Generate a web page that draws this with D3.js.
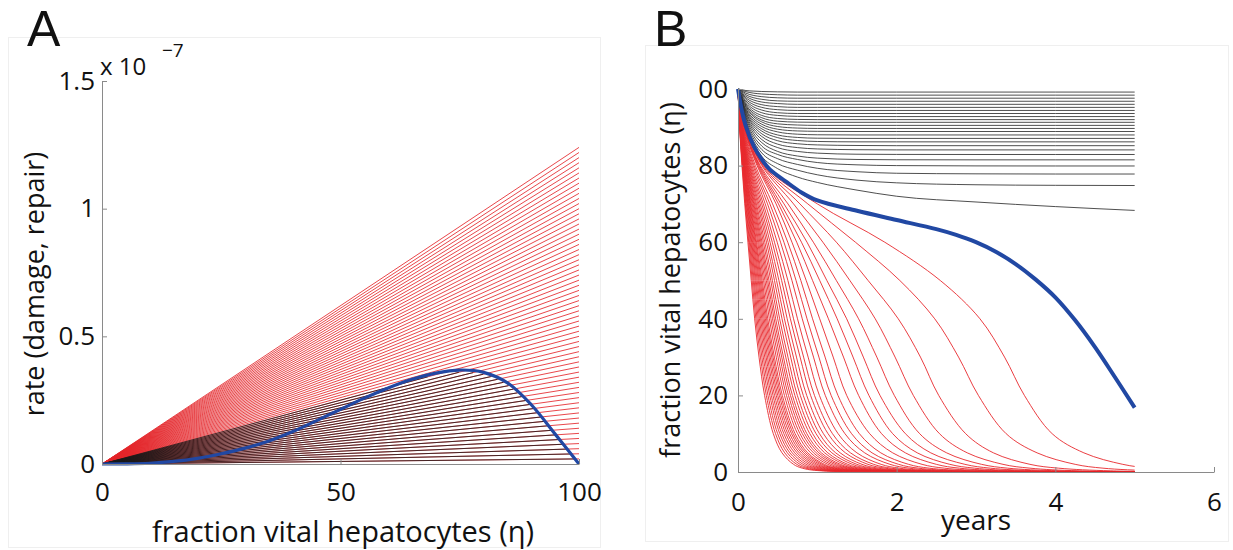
<!DOCTYPE html>
<html lang="en">
<head>
<meta charset="UTF-8">
<title>Damage vs repair of hepatocytes</title>
<script src="https://d3js.org/d3.v7.min.js"></script>
<style>
body { margin: 0; background: #fff; }
text { font-family: "Open Sans", "Noto Sans", sans-serif; fill: #111; }
.axis path, .axis line { stroke: #8a8a8a; stroke-width: 1; }
.axis text { font-size: 26px; fill: #111; font-family: "Open Sans", sans-serif; }
</style>
</head>
<body>
<svg width="1233" height="550"></svg>
<script>
// ---- panel A: repair curve (blue) and damage lines, x = eta (%) , y in 1e-7
const etaA = [0, 5, 10, 15, 20, 25, 30, 35, 40, 45, 50, 55, 60, 65, 70, 75, 80, 85, 90, 95, 100];
const repairA = [0, 0.0005, 0.003, 0.01, 0.022, 0.04, 0.062, 0.09, 0.127, 0.17, 0.214, 0.258, 0.298,
  0.332, 0.356, 0.368, 0.359, 0.318, 0.232, 0.117, 0];
// damage lines: value reached at eta = 100
const damageEnds = [0.02, 0.04, 0.06, 0.08, 0.10, 0.12, 0.14, 0.16, 0.18, 0.20,
  0.22, 0.24, 0.26, 0.28, 0.30, 0.32, 0.34, 0.36, 0.38, 0.40,
  0.42, 0.44, 0.46, 0.48, 0.50, 0.52, 0.54, 0.56, 0.58, 0.60,
  0.62, 0.64, 0.66, 0.68, 0.70, 0.72, 0.74, 0.76, 0.78, 0.80,
  0.82, 0.84, 0.86, 0.88, 0.90, 0.92, 0.94, 0.96, 0.98, 1.00,
  1.02, 1.04, 1.06, 1.08, 1.10, 1.12, 1.14, 1.16, 1.18, 1.20,
  1.22, 1.24];
const xTicksA = [0, 50, 100];
const yTicksA = [0, 0.5, 1, 1.5];

// ---- panel B: fraction vital hepatocytes over years
const blackT = [0, 0.05, 0.1, 0.2, 0.3, 0.5, 0.75, 1, 1.5, 2, 3, 4, 5];
const blackCurves = [
  [100, 99.8, 99.6, 99.45, 99.35, 99.25, 99.2, 99.2, 99.2, 99.2, 99.2, 99.2, 99.2],
  [100, 99.6, 99.3, 98.9, 98.7, 98.5, 98.4, 98.4, 98.4, 98.4, 98.4, 98.4, 98.4],
  [100, 99.4, 98.9, 98.3, 98.0, 97.7, 97.6, 97.6, 97.6, 97.6, 97.6, 97.6, 97.6],
  [100, 99.2, 98.5, 97.7, 97.3, 96.9, 96.8, 96.8, 96.8, 96.8, 96.8, 96.8, 96.8],
  [100, 98.9, 98.1, 97.1, 96.6, 96.2, 96.0, 96.0, 96.0, 96.0, 96.0, 96.0, 96.0],
  [100, 98.7, 97.7, 96.5, 95.9, 95.4, 95.2, 95.2, 95.2, 95.2, 95.2, 95.2, 95.2],
  [100, 98.5, 97.3, 95.9, 95.2, 94.6, 94.4, 94.4, 94.4, 94.4, 94.4, 94.4, 94.4],
  [100, 98.2, 96.9, 95.3, 94.5, 93.8, 93.6, 93.6, 93.6, 93.6, 93.6, 93.6, 93.6],
  [100, 98.0, 96.5, 94.7, 93.8, 93.1, 92.85, 92.8, 92.8, 92.8, 92.8, 92.8, 92.8],
  [100, 97.7, 96.1, 94.1, 93.1, 92.3, 92.05, 92.0, 92.0, 92.0, 92.0, 92.0, 92.0],
  [100, 97.5, 95.8, 93.6, 92.5, 91.6, 91.35, 91.3, 91.3, 91.3, 91.3, 91.3, 91.3],
  [100, 97.3, 95.5, 93.1, 91.9, 90.9, 90.6, 90.5, 90.5, 90.5, 90.5, 90.5, 90.5],
  [100, 97.1, 95.2, 92.7, 91.4, 90.2, 89.8, 89.7, 89.7, 89.7, 89.7, 89.7, 89.7],
  [100, 96.9, 94.8, 92.2, 90.8, 89.5, 89.05, 88.95, 88.9, 88.9, 88.9, 88.9, 88.9],
  [100, 96.7, 94.5, 91.7, 90.2, 88.8, 88.2, 88.05, 88.0, 88.0, 88.0, 88.0, 88.0],
  [100, 96.5, 94.2, 91.2, 89.6, 88.0, 87.35, 87.15, 87.1, 87.1, 87.1, 87.1, 87.1],
  [100, 96.3, 93.8, 90.7, 89.0, 87.3, 86.55, 86.3, 86.2, 86.2, 86.2, 86.2, 86.2],
  [100, 96.1, 93.5, 90.2, 88.3, 86.5, 85.7, 85.4, 85.25, 85.2, 85.2, 85.2, 85.2],
  [100, 95.9, 93.1, 89.6, 87.6, 85.6, 84.7, 84.35, 84.15, 84.1, 84.1, 84.1, 84.1],
  [100, 95.7, 92.7, 89.0, 86.8, 84.7, 83.7, 83.25, 82.97, 82.92, 82.9, 82.9, 82.9],
  [100, 95.4, 92.3, 88.3, 86.0, 83.7, 82.5, 81.95, 81.6, 81.52, 81.5, 81.5, 81.5],
  [100, 95.1, 91.8, 87.6, 85.1, 82.9, 81.6, 80.8, 80.2, 80.0, 79.92, 79.9, 79.9],
  [100, 94.9, 91.4, 86.9, 84.2, 81.8, 80.3, 79.3, 78.4, 78.0, 77.85, 77.8, 77.8],
  [100, 94.6, 91.0, 86.2, 83.3, 80.5, 78.8, 77.6, 76.2, 75.5, 75.0, 74.85, 74.8],
  [100, 94.4, 90.6, 85.6, 82.4, 79.2, 77.0, 75.6, 73.6, 72.0, 70.5, 69.3, 68.3]
];
// red curves: time (years) at which each curve reaches the levels below
const redLevels = [100, 90, 80, 70, 60, 50, 40, 30, 20, 10, 5, 2, 1, 0.3, 0];
const redTimes = [
  [0, 0.098, 0.33, 1.00, 1.85, 2.55, 3.05, 3.36, 3.61, 3.96, 4.36, 4.85, 5.2, 5.8, 6.5],
  [0, 0.096, 0.32, 0.88, 1.48, 2.04, 2.48, 2.78, 3.03, 3.38, 3.77, 4.25, 4.6, 5.25, 6],
  [0, 0.094, 0.31, 0.78, 1.24, 1.64, 2.02, 2.30, 2.53, 2.87, 3.22, 3.68, 4.04, 4.7, 6],
  [0, 0.091, 0.30, 0.70, 1.07, 1.41, 1.73, 1.98, 2.21, 2.54, 2.89, 3.34, 3.68, 4.3, 6],
  [0, 0.088, 0.28, 0.63, 0.95, 1.24, 1.52, 1.75, 1.97, 2.29, 2.63, 3.07, 3.40, 4.05, 6],
  [0, 0.085, 0.27, 0.58, 0.87, 1.12, 1.37, 1.58, 1.79, 2.11, 2.43, 2.86, 3.18, 3.8, 6],
  [0, 0.082, 0.26, 0.54, 0.80, 1.03, 1.25, 1.45, 1.65, 1.95, 2.26, 2.67, 2.98, 3.58, 6],
  [0, 0.079, 0.25, 0.51, 0.74, 0.94, 1.14, 1.33, 1.52, 1.81, 2.11, 2.50, 2.79, 3.38, 6],
  [0, 0.075, 0.24, 0.48, 0.68, 0.86, 1.03, 1.20, 1.37, 1.66, 1.95, 2.32, 2.60, 3.2, 6],
  [0, 0.070, 0.219, 0.436, 0.627, 0.792, 0.94, 1.098, 1.26, 1.53, 1.80, 2.15, 2.41, 2.98, 6],
  [0, 0.065, 0.203, 0.402, 0.579, 0.732, 0.87, 1.02, 1.174, 1.432, 1.69, 2.025, 2.275, 2.814, 6],
  [0, 0.061, 0.190, 0.372, 0.536, 0.680, 0.81, 0.952, 1.10, 1.348, 1.597, 1.916, 2.157, 2.673, 6],
  [0, 0.057, 0.176, 0.343, 0.494, 0.629, 0.75, 0.884, 1.026, 1.262, 1.499, 1.804, 2.033, 2.529, 6],
  [0, 0.054, 0.164, 0.319, 0.46, 0.585, 0.70, 0.827, 0.964, 1.191, 1.418, 1.711, 1.931, 2.408, 6],
  [0, 0.051, 0.154, 0.299, 0.432, 0.550, 0.66, 0.783, 0.915, 1.135, 1.354, 1.638, 1.852, 2.315, 6],
  [0, 0.049, 0.145, 0.280, 0.404, 0.516, 0.62, 0.737, 0.866, 1.077, 1.288, 1.563, 1.769, 2.217, 6],
  [0, 0.046, 0.137, 0.263, 0.380, 0.486, 0.585, 0.698, 0.823, 1.027, 1.231, 1.498, 1.698, 2.131, 6],
  [0, 0.044, 0.130, 0.248, 0.359, 0.460, 0.555, 0.664, 0.785, 0.984, 1.183, 1.442, 1.637, 2.059, 6],
  [0, 0.043, 0.123, 0.233, 0.338, 0.434, 0.525, 0.63, 0.748, 0.941, 1.133, 1.384, 1.573, 1.983, 6],
  [0, 0.041, 0.118, 0.221, 0.32, 0.413, 0.50, 0.602, 0.717, 0.905, 1.093, 1.338, 1.523, 1.924, 6],
  [0, 0.039, 0.112, 0.209, 0.303, 0.391, 0.475, 0.573, 0.686, 0.868, 1.051, 1.29, 1.47, 1.86, 6],
  [0, 0.038, 0.107, 0.199, 0.289, 0.374, 0.455, 0.551, 0.661, 0.84, 1.019, 1.253, 1.429, 1.812, 6],
  [0, 0.037, 0.103, 0.190, 0.275, 0.357, 0.435, 0.528, 0.636, 0.811, 0.986, 1.215, 1.387, 1.762, 6],
  [0, 0.035, 0.098, 0.18, 0.261, 0.339, 0.415, 0.505, 0.611, 0.781, 0.952, 1.174, 1.343, 1.709, 6],
  [0, 0.034, 0.093, 0.17, 0.248, 0.322, 0.395, 0.482, 0.585, 0.751, 0.916, 1.133, 1.297, 1.653, 6],
  [0, 0.032, 0.089, 0.161, 0.234, 0.306, 0.375, 0.459, 0.559, 0.72, 0.88, 1.09, 1.25, 1.595, 6],
  [0, 0.031, 0.085, 0.154, 0.224, 0.293, 0.36, 0.442, 0.54, 0.697, 0.855, 1.061, 1.217, 1.556, 6],
  [0, 0.030, 0.081, 0.147, 0.214, 0.280, 0.345, 0.425, 0.521, 0.675, 0.828, 1.03, 1.183, 1.515, 6],
  [0, 0.029, 0.078, 0.139, 0.203, 0.267, 0.33, 0.407, 0.501, 0.651, 0.801, 0.998, 1.147, 1.471, 6],
  [0, 0.028, 0.075, 0.132, 0.193, 0.255, 0.315, 0.39, 0.482, 0.627, 0.773, 0.965, 1.11, 1.425, 6],
  [0, 0.027, 0.071, 0.125, 0.183, 0.242, 0.30, 0.372, 0.461, 0.603, 0.745, 0.93, 1.071, 1.378, 6],
  [0, 0.026, 0.068, 0.119, 0.173, 0.229, 0.285, 0.355, 0.441, 0.578, 0.715, 0.895, 1.031, 1.328, 6],
  [0, 0.025, 0.064, 0.112, 0.164, 0.217, 0.27, 0.337, 0.42, 0.552, 0.684, 0.858, 0.99, 1.277, 6],
  [0, 0.024, 0.06, 0.105, 0.154, 0.204, 0.255, 0.319, 0.40, 0.527, 0.653, 0.82, 0.947, 1.223, 6],
  [0, 0.022, 0.057, 0.098, 0.144, 0.192, 0.24, 0.301, 0.378, 0.50, 0.622, 0.781, 0.903, 1.168, 6],
  [0, 0.021, 0.054, 0.092, 0.135, 0.179, 0.225, 0.283, 0.357, 0.473, 0.589, 0.741, 0.857, 1.11, 6],
  [0, 0.020, 0.050, 0.085, 0.125, 0.167, 0.21, 0.265, 0.335, 0.445, 0.555, 0.70, 0.81, 1.05, 6]
];
const blueT = [0, 0.05, 0.1, 0.2, 0.3, 0.4, 0.6, 0.8, 1, 1.5, 2, 2.5, 2.75, 3, 3.25, 3.5, 3.75, 4, 4.25, 4.5, 4.75, 5];
const blueB = [100, 94.2, 90.2, 85.0, 81.6, 79.0, 75.9, 73.0, 70.9, 68.2, 65.8, 63.4, 61.9, 60.0, 57.5,
  54.3, 50.3, 45.6, 39.6, 32.6, 24.8, 16.8];
const xTicksB = [0, 2, 4, 6];
const yTicksB = [0, 20, 40, 60, 80, 100];

const svg = d3.select('svg');
svg.append('rect').attr('width', 1233).attr('height', 550).attr('fill', '#fff');

// faint panel frames
svg.append('rect').attr('x', 8.5).attr('y', 37.5).attr('width', 592).attr('height', 510)
  .attr('fill', 'none').attr('stroke', '#efefef');
svg.append('rect').attr('x', 645.5).attr('y', 45.5).attr('width', 583).attr('height', 496)
  .attr('fill', 'none').attr('stroke', '#efefef');

const smooth = d3.curveCatmullRom.alpha(0.5);

// ================= panel A =================
const xA = d3.scaleLinear().domain([0, 100]).range([102, 579]);
const yA = d3.scaleLinear().domain([0, 1.5]).range([464, 81]);
const gA = svg.append('g');

// damage lines, red over the full range
gA.selectAll('.dmg').data(damageEnds).enter().append('line')
  .attr('class', 'dmg')
  .attr('x1', xA(0)).attr('y1', yA(0))
  .attr('x2', xA(100)).attr('y2', d => yA(d))
  .attr('stroke', '#e4262b').attr('stroke-width', 0.85);

// black part of the lines that meet the repair curve (up to the steady state of panel B)
gA.selectAll('.stable').data(blackCurves).enter().append('line')
  .attr('class', 'stable')
  .attr('x1', xA(0)).attr('y1', yA(0))
  .attr('x2', d => xA(d[d.length - 1]))
  .attr('y2', (d, i) => yA(damageEnds[i] * d[d.length - 1] / 100))
  .attr('stroke', '#1a1a1a').attr('stroke-width', 0.8);

gA.append('path')
  .datum(etaA)
  .attr('fill', 'none').attr('stroke', '#2148a3').attr('stroke-width', 3.2)
  .attr('d', d3.line().x(d => xA(d)).y((d, i) => yA(repairA[i])).curve(smooth));

const xAxisA = d3.axisBottom(xA).tickValues(xTicksA).tickSizeInner(-5).tickSizeOuter(0).tickPadding(19);
const yAxisA = d3.axisLeft(yA).tickValues(yTicksA).tickSizeInner(-5).tickSizeOuter(0).tickPadding(7)
  .tickFormat(d3.format('~g'));
gA.append('g').attr('class', 'axis').attr('transform', `translate(0,${yA(0)})`).call(xAxisA);
gA.append('g').attr('class', 'axis').attr('transform', `translate(${xA(0)},0)`).call(yAxisA);

const expo = gA.append('text').attr('x', 100).attr('y', 75).style('font-size', '24px');
expo.append('tspan').text('x 10');
expo.append('tspan').attr('x', 162).attr('y', 57).style('font-size', '19px').text('\u22127');

gA.append('text').attr('x', 343).attr('y', 542).attr('text-anchor', 'middle')
  .style('font-size', '29px').text('fraction vital hepatocytes (\u03b7)');
gA.append('text').attr('transform', 'translate(44,284) rotate(-90)').attr('text-anchor', 'middle')
  .style('font-size', '27px').text('rate (damage, repair)');
gA.append('text').attr('x', 27).attr('y', 46)
  .style('font-family', '"Liberation Sans", Arial, sans-serif').style('font-size', '50px').text('A');

// ================= panel B =================
const xB = d3.scaleLinear().domain([0, 6]).range([738, 1214]);
const yB = d3.scaleLinear().domain([0, 100]).range([472, 89]);
const gB = svg.append('g');

svg.append('clipPath').attr('id', 'clipB').append('rect')
  .attr('x', xB(0) - 3).attr('y', 0).attr('width', xB(5) - xB(0) + 3).attr('height', yB(0) + 0.5);

gB.append('g').attr('clip-path', 'url(#clipB)')
  .selectAll('path').data(redTimes).enter().append('path')
  .attr('fill', 'none').attr('stroke', '#e8282c').attr('stroke-width', 0.9)
  .attr('d', d3.line().x(d => xB(d)).y((d, i) => yB(redLevels[i])).curve(smooth));

gB.append('g').selectAll('path').data(blackCurves).enter().append('path')
  .attr('fill', 'none').attr('stroke', '#222').attr('stroke-width', 0.8)
  .attr('d', d3.line().x((d, i) => xB(blackT[i])).y(d => yB(d)).curve(d3.curveMonotoneX));

gB.append('path')
  .datum(blueB)
  .attr('fill', 'none').attr('stroke', '#2148a3').attr('stroke-width', 4)
  .attr('d', d3.line().x((d, i) => xB(blueT[i])).y(d => yB(d)).curve(smooth));

const xAxisB = d3.axisBottom(xB).tickValues(xTicksB).tickSizeInner(-5).tickSizeOuter(0).tickPadding(21)
  .tickFormat(d3.format('d'));
const yAxisB = d3.axisLeft(yB).tickValues(yTicksB).tickSizeInner(-5).tickSizeOuter(0).tickPadding(10)
  .tickFormat(d => d === 100 ? '00' : d);
gB.append('g').attr('class', 'axis').attr('transform', `translate(0,${yB(0)})`).call(xAxisB);
gB.append('g').attr('class', 'axis').attr('transform', `translate(${xB(0)},0)`).call(yAxisB);

gB.append('text').attr('x', 976).attr('y', 530).attr('text-anchor', 'middle')
  .style('font-size', '28px').text('years');
gB.append('text').attr('transform', 'translate(680,280) rotate(-90)').attr('text-anchor', 'middle')
  .style('font-size', '27px').text('fraction vital hepatocytes (\u03b7)');
gB.append('text').attr('x', 654).attr('y', 46)
  .style('font-family', '"Liberation Sans", Arial, sans-serif').style('font-size', '50px').text('B');
</script>
</body>
</html>
